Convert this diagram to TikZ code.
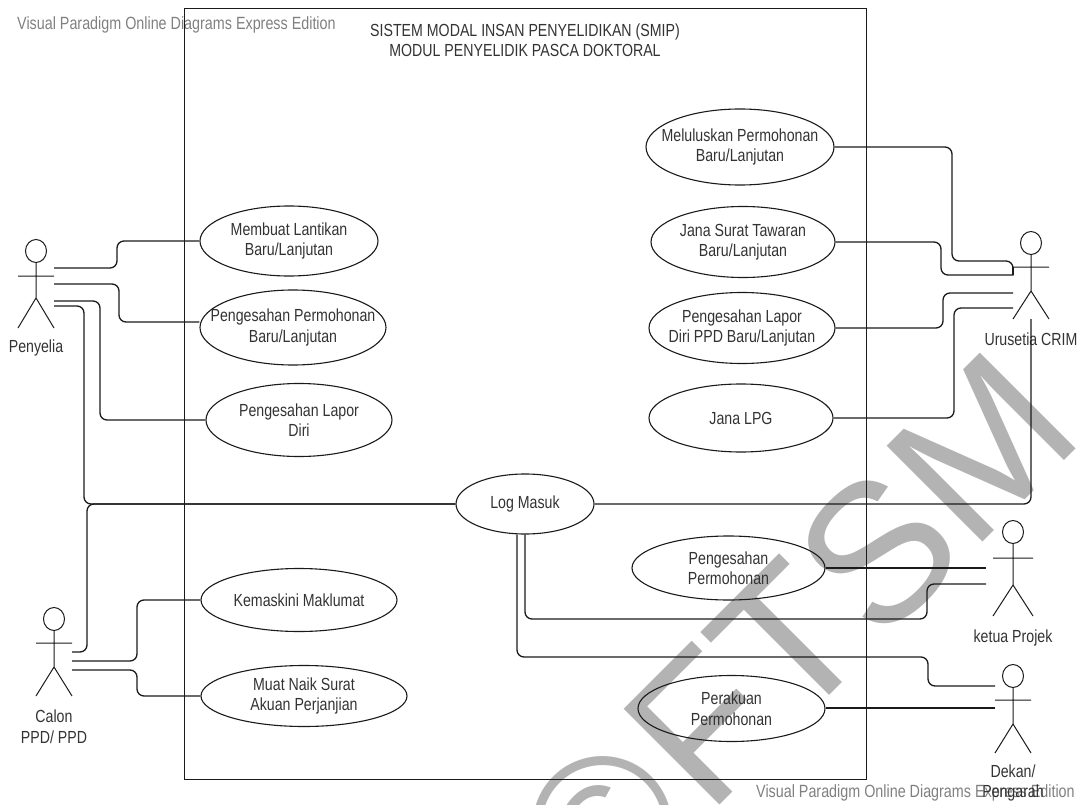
\documentclass[tikz,border=0pt]{standalone}
\usepackage{fontspec}
\setmainfont[FakeStretch=0.81]{Liberation Sans}
\newfontfamily\wmfont{Liberation Sans}
\usetikzlibrary{shapes.geometric}
\definecolor{ink}{HTML}{1A1A1A}
\definecolor{txt}{HTML}{333333}
\definecolor{wm}{HTML}{B3B3B3}
\definecolor{vp}{HTML}{808080}
\tikzset{
  usecase/.style={draw=ink,ellipse,line width=1.1pt,inner sep=-35pt,align=center,text=txt,font=\fontsize{17.5}{20.5}\selectfont},
  conn/.style={draw=ink,line width=1.3pt,rounded corners=7pt},
  head/.style={draw=ink,ellipse,line width=1pt,minimum width=21pt,minimum height=23pt,inner sep=0pt},
  fig/.style={draw=ink,line width=1pt},
  lab/.style={align=center,text=txt,font=\fontsize{17.5}{20.5}\selectfont,inner sep=0pt},
  vpmark/.style={text=vp,inner sep=0pt,font=\fontsize{17.7}{20}\selectfont},
}
\begin{document}
\begin{tikzpicture}[x=1pt,y=-1pt]
\useasboundingbox (0,0) rectangle (1084,805);
\begin{scope}
\clip (0,0) rectangle (1084,805);
\node[text=wm,anchor=base west,rotate=45,inner sep=0pt,font=\wmfont\fontsize{197}{197}\selectfont] (wmark) at (599,926) {©\kern10pt FTSM};
\end{scope}
\node[vpmark,anchor=west] (vp1) at (17,25) {Visual Paradigm Online Diagrams Express Edition};
\node[vpmark,anchor=west] (vp2) at (756,793) {Visual Paradigm Online Diagrams Express Edition};
\node[draw=ink,line width=1pt,minimum width=682pt,minimum height=771pt,inner sep=0pt,anchor=north west] (sys) at (184,8) {};
\node[lab] (title) at (525,40) {SISTEM MODAL INSAN PENYELIDIKAN (SMIP)\\MODUL PENYELIDIK PASCA DOKTORAL};
% use cases
\node[usecase,minimum width=178pt,minimum height=70pt] (mem) at (289,241) {Membuat Lantikan\\Baru/Lanjutan};
\node[usecase,minimum width=186pt,minimum height=75pt] (pp) at (293,327.5) {Pengesahan Permohonan\\Baru/Lanjutan};
\node[usecase,minimum width=186pt,minimum height=73pt] (pl) at (299,420) {Pengesahan Lapor\\Diri};
\node[usecase,minimum width=196pt,minimum height=63pt] (kem) at (299,600) {Kemaskini Maklumat};
\node[usecase,minimum width=206pt,minimum height=61pt] (muat) at (304,696) {Muat Naik Surat\\Akuan Perjanjian};
\node[usecase,minimum width=188pt,minimum height=76pt] (mel) at (740,147) {Meluluskan Permohonan\\Baru/Lanjutan};
\node[usecase,minimum width=184pt,minimum height=71pt] (jst) at (743,242) {Jana Surat Tawaran\\Baru/Lanjutan};
\node[usecase,minimum width=186pt,minimum height=71pt] (pld) at (742,328) {Pengesahan Lapor\\Diri PPD Baru/Lanjutan};
\node[usecase,minimum width=184pt,minimum height=68pt] (lpg) at (741,418) {Jana LPG};
\node[usecase,minimum width=138pt,minimum height=60pt] (log) at (525,504) {Log Masuk};
\node[usecase,minimum width=193pt,minimum height=64pt] (kp) at (728.5,568) {Pengesahan\\Permohonan};
\node[usecase,minimum width=187pt,minimum height=66pt] (per) at (731.5,708.5) {Perakuan\\Permohonan};
% actors
\node[head] (apen) at (36,251) {};
\draw[fig] (apen.south) -- (36,298) (18,276) -- (54,276) (18,328) -- (36,298) -- (54,328);
\node[lab] (lpen) at (36,348) {Penyelia};
\node[head] (acal) at (54,619) {};
\draw[fig] (acal.south) -- (54,667) (36,643) -- (72,643) (36,696) -- (54,667) -- (72,696);
\node[lab] (lcal) at (54,726.5) {Calon\\PPD/ PPD};
\node[head] (auru) at (1031,243) {};
\draw[fig] (auru.south) -- (1031,291) (1013,267) -- (1049,267) (1013,319) -- (1031,291) -- (1049,319);
\node[lab] (luru) at (1031,339) {Urusetia CRIM};
\node[head] (aket) at (1013,532) {};
\draw[fig] (aket.south) -- (1013,585) (993,558) -- (1033,558) (993,616) -- (1013,585) -- (1033,616);
\node[lab] (lket) at (1013,638) {ketua Projek};
\node[head] (adek) at (1013,676) {};
\draw[fig] (adek.south) -- (1013,724) (995,700) -- (1031,700) (995,753) -- (1013,724) -- (1031,753);
\node[lab] (ldek) at (1013,783) {Dekan/\\Pengarah};
% connector ends at the actors
\coordinate (p1) at (54,268); \coordinate (p2) at (54,284); \coordinate (p3) at (54,301); \coordinate (p4) at (54,306);
\coordinate (c1) at (72,652); \coordinate (c2) at (72,661); \coordinate (c3) at (72,670);
\coordinate (u1) at (1013,267); \coordinate (u2) at (1013,293); \coordinate (u3) at (1013,308); \coordinate (u4) at (1031,319);
\coordinate (k1) at (986,568); \coordinate (k2) at (986,584);
\coordinate (d1) at (995,686); \coordinate (d2) at (995,708);
% connectors
\draw[conn] (p1) -- (117,268) -- (117,241) -- (mem.west);
\draw[conn] (p2) -- (119,284) -- (119,322) -- (pp.west |- 0,322);
\draw[conn] (p3) -- (100,301) -- (100,420) -- (pl.west);
\draw[conn] (p4) -- (84,306) -- (84,504) -- (log.west);
\draw[conn] (c1) -- (87,652) -- (87,504) -- (log.west);
\draw[conn] (c2) -- (137,661) -- (137,600) -- (kem.west);
\draw[conn] (c3) -- (137,670) -- (137,696) -- (muat.west);
\draw[conn] (mel.east) -- (952,147) -- (952,261) -- (1013,261) -- (u1);
\draw[conn,rounded corners=0pt] (1013,275) -- (u1);
\draw[conn] (jst.east) -- (941,242) -- (941,275) -- (1013.6,275);
\draw[conn] (pld.east) -- (943,328) -- (943,293) -- (u2);
\draw[conn] (lpg.east) -- (954,418) -- (954,308) -- (u3);
\draw[conn] (log.east) -- (1031,504) -- (u4);
\draw[conn] (kp.east) -- (k1);
\draw[conn] (log.south -| 525,533) -- (525,619) -- (927,619) -- (927,584) -- (k2);
\draw[conn] (log.south -| 517,533) -- (517,657) -- (928,657) -- (928,686) -- (d1);
\draw[conn] (per.east |- d2) -- (d2);
\end{tikzpicture}
\end{document}
